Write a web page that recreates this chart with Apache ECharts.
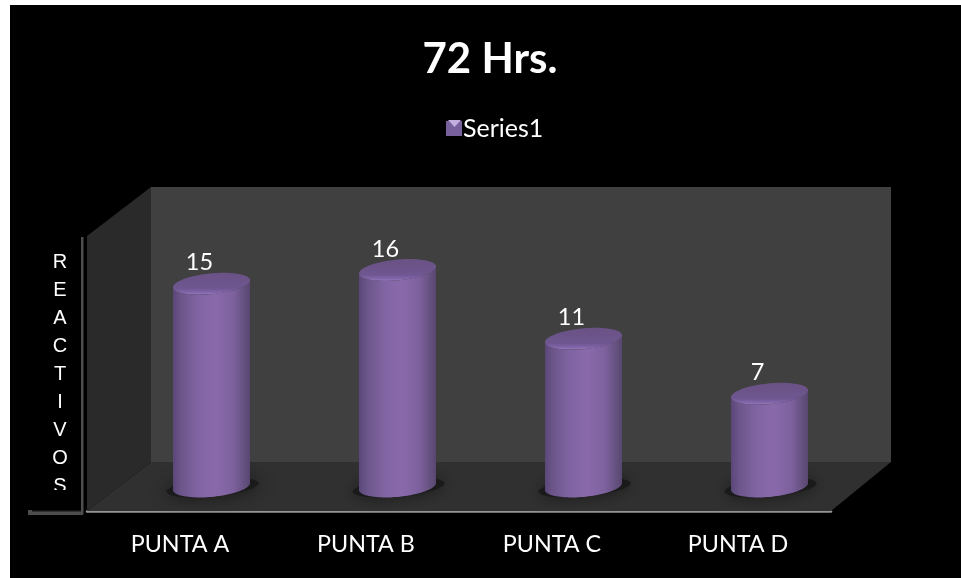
<!DOCTYPE html>
<html>
<head>
<meta charset="UTF-8">
<script src="https://cdn.jsdelivr.net/npm/echarts@6/dist/echarts.min.js"></script>
<style>
  html, body { margin: 0; padding: 0; background: #fff; }
  #bg { position: absolute; left: 10px; top: 5px; width: 951px; height: 573px; background: #000; }
  #main { position: absolute; left: 0; top: 0; width: 961px; height: 578px; }
</style>
</head>
<body>
<div id="bg"></div>
<div id="main"></div>
<script>
var categories = ['PUNTA A', 'PUNTA B', 'PUNTA C', 'PUNTA D'];
var values = [15, 16, 11, 7];
var yLetters = ['R', 'E', 'A', 'C', 'T', 'I', 'V', 'O', 'S'];

var uiFont = 'Lato';
var barA = 38.5, barB = 10.4, barK = -0.09;

// sheared ellipse, so the cylinder sides stay vertical
function ell(cx, cy, a, b, from, to) {
  var pts = [];
  for (var i = 0; i <= 48; i++) {
    var t = from + (to - from) * i / 48;
    pts.push([cx + a * Math.cos(t), cy + b * Math.sin(t) + barK * a * Math.cos(t)]);
  }
  return pts;
}

function renderWalls(params) {
  var c = params.coordSys;
  var l = c.x, r = c.x + c.width, b = c.y + c.height, t = c.y;
  return {
    type: 'group',
    children: [
      { type: 'polygon', shape: { points: [[l + 64, b - 49 - c.height], [r + 60, b - 49 - c.height], [r + 60, b - 49], [l + 64, b - 49]] }, style: { fill: '#404040' } },
      { type: 'polygon', shape: { points: [[l, t], [l + 64, t - 49], [l + 64, b - 49], [l, b]] }, style: { fill: '#2a2a2a' } },
      { type: 'polygon', shape: { points: [[l, b], [l + 64, b - 49], [r + 60, b - 49], [r, b]] }, style: { fill: '#303030' } }
    ]
  };
}

function renderBar(params, api) {
  var top = api.coord([api.value(0), api.value(1)]);
  var base = api.coord([api.value(0), 0]);
  var cx = top[0] + 31.5;
  var topY = top[1] - 21;
  var baseY = base[1] - 24.5;
  var side = ell(cx, topY, barA, barB, Math.PI, 0)
    .concat(ell(cx, baseY, barA, barB, 0, Math.PI));
  var bodyFill = new echarts.graphic.LinearGradient(0, 0, 1, 0, [
    { offset: 0, color: '#5a4778' },
    { offset: 0.1, color: '#6b5589' },
    { offset: 0.32, color: '#8064a2' },
    { offset: 0.55, color: '#8a69ab' },
    { offset: 0.78, color: '#7d619e' },
    { offset: 0.93, color: '#64507e' },
    { offset: 1, color: '#584671' }
  ]);
  var capFill = new echarts.graphic.LinearGradient(0, 0, 0, 1, [
    { offset: 0, color: '#6a5285' },
    { offset: 0.7, color: '#6e5690' },
    { offset: 0.88, color: '#8064a8' },
    { offset: 0.96, color: '#8f74b6' },
    { offset: 1, color: '#7a5f9c' }
  ]);
  return {
    type: 'group',
    children: [
      {
        type: 'polygon',
        shape: { points: ell(cx + 1, baseY + 1, 46, 9, 0, Math.PI * 2) },
        style: { fill: '#1a1a1a', shadowBlur: 16, shadowColor: '#171717' }
      },
      { type: 'polygon', shape: { points: side }, style: { fill: bodyFill } },
      { type: 'polygon', shape: { points: ell(cx, topY, barA, barB, 0, Math.PI * 2) }, style: { fill: capFill } },
      {
        type: 'text',
        style: {
          x: cx - 12, y: topY - 21, text: String(api.value(1)),
          fill: '#fff', font: '23.5px ' + uiFont, align: 'center', verticalAlign: 'middle'
        }
      }
    ]
  };
}

var myChart = echarts.init(document.getElementById('main'));
myChart.setOption({
  backgroundColor: 'transparent',
  animation: false,
  title: {
    text: '72 Hrs.',
    left: 485, top: 33, textAlign: 'center',
    textStyle: { color: '#fff', fontFamily: uiFont, fontWeight: 'bold', fontSize: 42 }
  },
  legend: {
    data: ['Series1'],
    left: 441, top: 111,
    icon: 'rect', itemWidth: 16, itemHeight: 15, itemGap: 4,
    textStyle: { color: '#fff', fontFamily: uiFont, fontSize: 25, padding: [0, 0, 0, -4] }
  },
  grid: { left: 87, right: 130, top: 236, bottom: 67 },
  xAxis: {
    type: 'category',
    data: categories,
    axisLine: { lineStyle: { color: '#949494', width: 2.5 } },
    axisTick: { show: false },
    axisLabel: { color: '#fff', fontFamily: uiFont, fontSize: 23.3, margin: 22 }
  },
  yAxis: { type: 'value', min: 0, max: 20, interval: 5, show: false },
  series: [
    { type: 'custom', name: 'walls', silent: true, clip: false, z: 1, renderItem: renderWalls, data: [[0, 0]] },
    {
      type: 'custom', name: 'Series1', clip: false, z: 2, renderItem: renderBar,
      itemStyle: { color: '#77609c' },
      encode: { x: 0, y: 1 },
      data: categories.map(function (c, i) { return [i, values[i]]; })
    }
  ],
  graphic: [
    { type: 'text', z: 5, style: { x: 60, y: 248, text: yLetters.join('\n'), fill: '#fff', font: '20px "Liberation Sans"', lineHeight: 28, align: 'center' } },
    { type: 'rect', z: 6, shape: { x: 40, y: 490, width: 40, height: 19 }, style: { fill: '#000' } },
    { type: 'rect', z: 6, shape: { x: 81, y: 237, width: 2.5, height: 277 }, style: { fill: '#4d4d4d' } },
    { type: 'rect', z: 6, shape: { x: 28, y: 510, width: 55, height: 5 }, style: { fill: '#4d4d4d' } },
    { type: 'rect', z: 6, shape: { x: 32, y: 510, width: 49, height: 1.5 }, style: { fill: '#111' } },
    // legend key bevel
    { type: 'polygon', z: 7, shape: { points: [[448, 120], [461, 120], [454.5, 127]] }, style: { fill: '#c3aee0' } }
  ]
});
</script>
</body>
</html>
